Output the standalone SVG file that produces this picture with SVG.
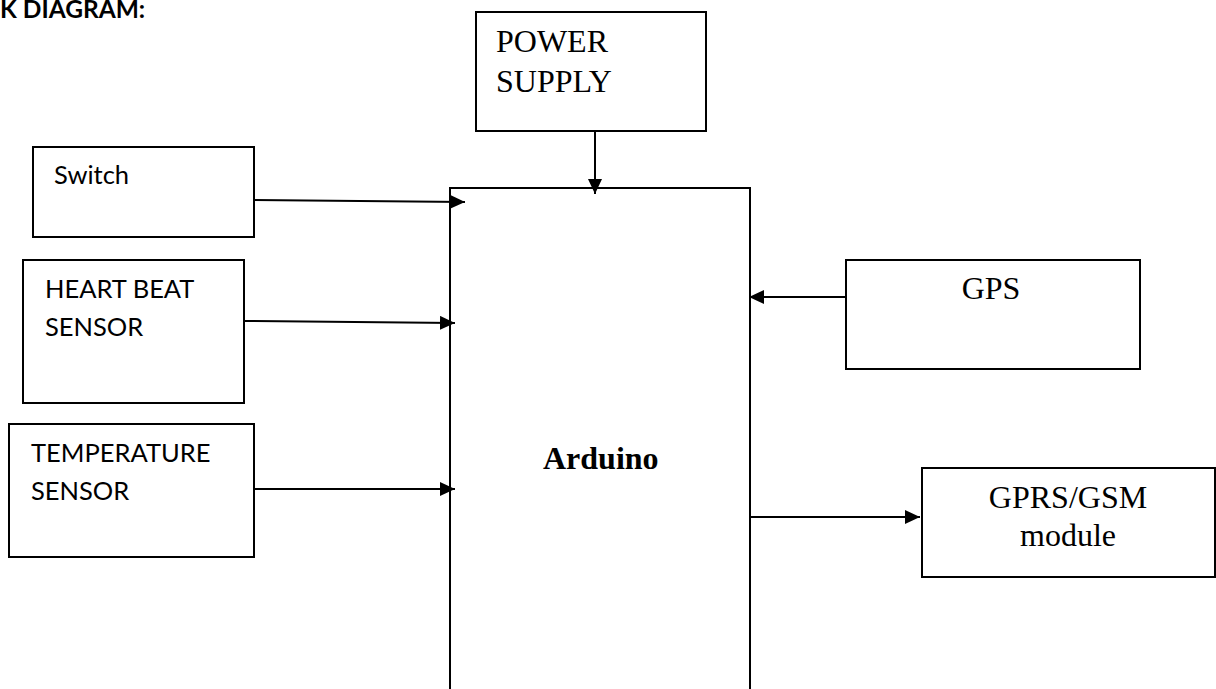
<svg xmlns="http://www.w3.org/2000/svg" width="1216" height="689" viewBox="0 0 1216 689">
<defs>
<marker id="arr" viewBox="0 0 15 14" markerWidth="15" markerHeight="14" refX="15" refY="7" orient="auto" markerUnits="userSpaceOnUse">
<path d="M0,0 L15,7 L0,14 z" fill="#000"/>
</marker>
<style>
.box{fill:#fff;stroke:#000;stroke-width:2}
.conn{fill:none;stroke:#000;stroke-width:2;marker-end:url(#arr)}
.tnr{font-family:"Liberation Serif","Times New Roman",serif;font-size:32px;fill:#000}
.cal{font-family:Lato,"Open Sans",sans-serif;font-size:25.5px;fill:#000}
</style>
</defs>
<rect width="1216" height="689" fill="#fff"/>
<text x="0" y="18" font-family="Lato,'Open Sans',sans-serif" font-weight="bold" font-size="24.5" fill="#000">K DIAGRAM:</text>
<g id="power">
<rect class="box" x="476" y="12" width="230" height="119"/>
<text class="tnr" x="496" y="52">POWER</text>
<text class="tnr" x="496" y="92">SUPPLY</text>
</g>
<g id="arduino">
<path d="M450,700 V188 H750 V700" fill="none" stroke="#000" stroke-width="2"/>
<text class="tnr" x="543" y="469" font-weight="bold" font-size="31">Arduino</text>
</g>
<g id="switch">
<rect class="box" x="33" y="147" width="221" height="90"/>
<text class="cal" x="54" y="184" font-size="27.5">Switch</text>
</g>
<g id="heartbeat">
<rect class="box" x="23" y="260" width="221" height="143"/>
<text class="cal" x="45" y="298">HEART BEAT</text>
<text class="cal" x="45" y="336">SENSOR</text>
</g>
<g id="temperature">
<rect class="box" x="9" y="424" width="245" height="133"/>
<text class="cal" x="31" y="462">TEMPERATURE</text>
<text class="cal" x="31" y="500">SENSOR</text>
</g>
<g id="gps">
<rect class="box" x="846" y="260" width="294" height="109"/>
<text class="tnr" x="991" y="299" text-anchor="middle">GPS</text>
</g>
<g id="gprs">
<rect class="box" x="922" y="468" width="293" height="109"/>
<text class="tnr" x="1068" y="508" text-anchor="middle">GPRS/GSM</text>
<text class="tnr" x="1068" y="546" text-anchor="middle">module</text>
</g>
<g id="connectors">
<line class="conn" x1="595" y1="131" x2="595" y2="194"/>
<line class="conn" x1="254" y1="200" x2="465" y2="202"/>
<line class="conn" x1="244" y1="321" x2="455" y2="323"/>
<line class="conn" x1="254" y1="489" x2="455" y2="489"/>
<line class="conn" x1="846" y1="297" x2="749" y2="297"/>
<line class="conn" x1="750" y1="517" x2="920" y2="517"/>
</g>
</svg>
